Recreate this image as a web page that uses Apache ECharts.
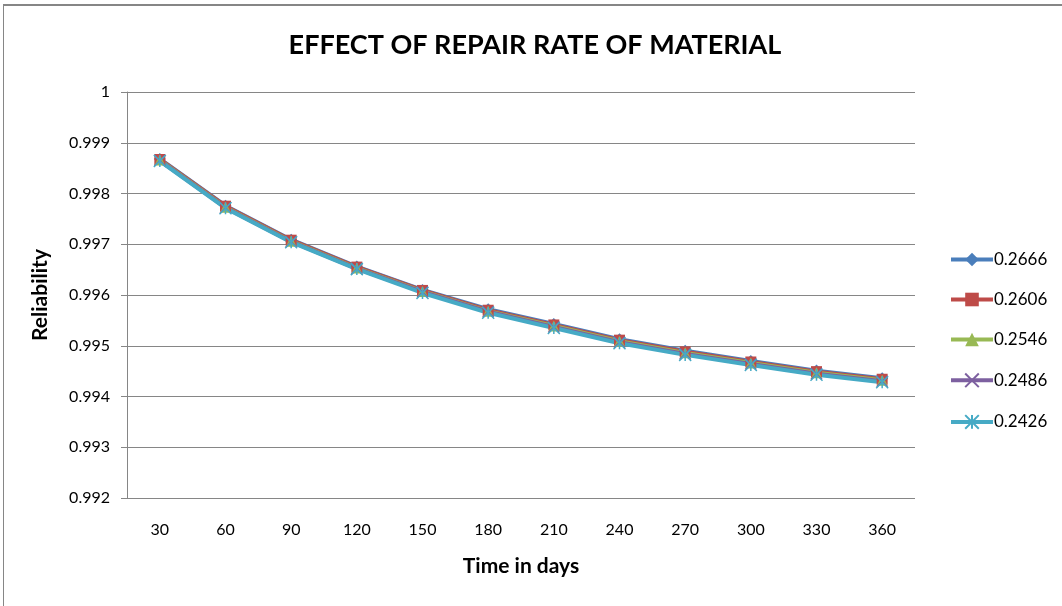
<!DOCTYPE html>
<html>
<head>
<meta charset="utf-8">
<script src="https://cdn.jsdelivr.net/npm/echarts@6/dist/echarts.min.js"></script>
<style>
html,body{margin:0;padding:0;background:#fff;}
#frame{position:absolute;left:3px;top:4px;width:1100px;height:700px;border-left:1px solid #868686;border-top:2px solid #868686;}
#chart{position:absolute;left:0;top:0;width:1062px;height:606px;}
</style>
</head>
<body>
<div id="frame"></div>
<div id="chart"></div>
<script>
var days = ['30','60','90','120','150','180','210','240','270','300','330','360'];
var seriesNames = ['0.2666','0.2606','0.2546','0.2486','0.2426'];
var r2666 = [0.99868,0.99776,0.99709,0.99656,0.99610,0.99572,0.99543,0.99513,0.99490,0.99470,0.99451,0.99436];
var r2606 = [0.99867,0.99775,0.99708,0.99655,0.99609,0.99570,0.99541,0.99511,0.99488,0.99468,0.99449,0.99434];
var r2546 = [0.99866,0.99773,0.99706,0.99653,0.99607,0.99568,0.99539,0.99509,0.99486,0.99466,0.99447,0.99432];
var r2486 = [0.99865,0.99772,0.99705,0.99652,0.99606,0.99567,0.99537,0.99507,0.99484,0.99464,0.99445,0.99430];
var r2426 = [0.99864,0.99771,0.99704,0.99651,0.99604,0.99565,0.99535,0.99505,0.99482,0.99462,0.99443,0.99428];
var yTicks = ['0.992','0.993','0.994','0.995','0.996','0.997','0.998','0.999','1'];

var colors = ['#4A7EBB','#BE4B48','#98B954','#7D60A0','#46AAC5'];
var xPath = 'path://M0,0 L10,10 M10,0 L0,10';
var starPath = 'path://M0,0 L10,10 M10,0 L0,10 M5,0 L5,10';
var symbols = ['diamond','rect','triangle', xPath, starPath];
var sizes = [12,11,11,11,12];
var data = [r2666, r2606, r2546, r2486, r2426];
var FONT = 'Lato';

var chart = echarts.init(document.getElementById('chart'));
var series = seriesNames.map(function(n,i){
  var isPath = i>=3;
  return {
    name: n, type: 'line', data: data[i],
    symbol: symbols[i], symbolSize: sizes[i], showSymbol: true,
    lineStyle: {color: colors[i], width: 4},
    itemStyle: isPath ? {color: 'none', borderColor: colors[i], borderWidth: 1.5} : {color: colors[i], borderColor: colors[i], borderWidth: 0},
    emphasis: {disabled: true},
    animation: false
  };
});
chart.setOption({
  animation: false,
  color: colors,
  title: {
    text: 'EFFECT OF REPAIR RATE OF MATERIAL',
    left: 530, top: 27, textAlign: 'center',
    textStyle: {fontFamily: FONT, fontWeight: 'bold', fontSize: 27, color: '#000'}
  },
  legend: {
    orient: 'vertical', left: 944, top: 246, itemGap: 23,
    itemWidth: 42, itemHeight: 17,
    lineStyle: {width: 4},
    textStyle: {fontFamily: FONT, fontSize: 17, color: '#000', padding: [0,0,0,-4]},
    data: seriesNames
  },
  grid: {left: 127, right: 147, top: 92, bottom: 108},
  xAxis: {
    type: 'category', data: days, boundaryGap: true,
    name: 'Time in days', nameLocation: 'middle', nameGap: 58,
    nameTextStyle: {fontFamily: FONT, fontWeight: 'bold', fontSize: 21, color: '#000'},
    axisLine: {show: false},
    axisTick: {show: false},
    axisLabel: {fontFamily: FONT, fontSize: 16, color: '#000', margin: 24}
  },
  yAxis: {
    type: 'value', min: 0.992, max: 1, interval: 0.001,
    name: 'Reliability', nameLocation: 'middle', nameGap: 76, nameRotate: 90,
    nameTextStyle: {fontFamily: FONT, fontWeight: 'bold', fontSize: 21, color: '#000'},
    axisLine: {show: true, lineStyle: {color: '#868686', width: 1}},
    axisTick: {show: true, inside: false, length: 6, lineStyle: {color: '#868686'}},
    axisLabel: {fontFamily: FONT, fontSize: 16, color: '#000', margin: 17,
      formatter: function(v){ return yTicks[Math.round((v-0.992)/0.001)]; }},
    splitLine: {show: true, lineStyle: {color: '#868686', width: 1}}
  },
  series: series
});
</script>
</body>
</html>
